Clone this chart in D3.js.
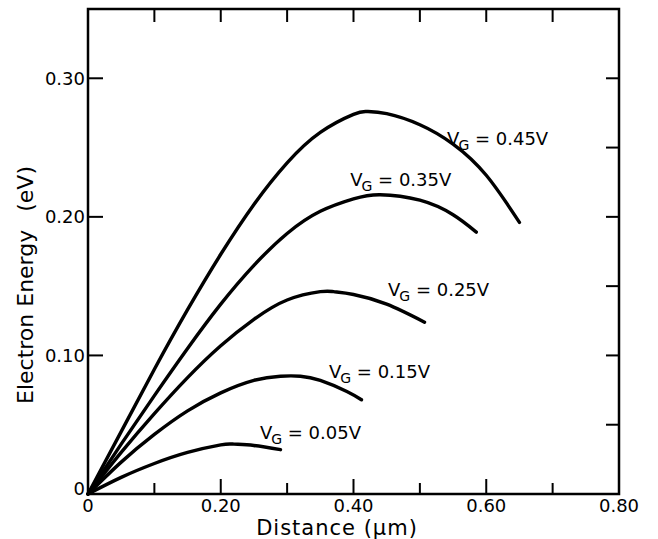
<!DOCTYPE html>
<html>
<head>
<meta charset="utf-8">
<title>Electron Energy vs Distance</title>
<script src="https://d3js.org/d3.v7.min.js"></script>
<style>
  body { margin: 0; background: #fff; }
  svg text { font-family: "DejaVu Sans", sans-serif; fill: #000; }
</style>
</head>
<body>
<script>
// curve data (distance in um, energy in eV)
var dist45 = [0, 0.05, 0.10, 0.15, 0.20, 0.25, 0.30, 0.35, 0.40, 0.42, 0.45, 0.50, 0.55, 0.60, 0.65];
var energy45 = [0, 0.045, 0.090, 0.133, 0.173, 0.209, 0.239, 0.261, 0.274, 0.276, 0.2745, 0.2665, 0.2525, 0.230, 0.196];

var dist35 = [0, 0.05, 0.10, 0.15, 0.20, 0.25, 0.30, 0.35, 0.40, 0.44, 0.50, 0.55, 0.585];
var energy35 = [0, 0.036, 0.071, 0.105, 0.137, 0.165, 0.188, 0.204, 0.213, 0.216, 0.212, 0.2015, 0.189];

var dist25 = [0, 0.05, 0.10, 0.15, 0.20, 0.25, 0.30, 0.35, 0.37, 0.40, 0.45, 0.507];
var energy25 = [0, 0.030, 0.058, 0.084, 0.107, 0.126, 0.140, 0.146, 0.146, 0.144, 0.137, 0.124];

var dist15 = [0, 0.05, 0.10, 0.15, 0.20, 0.25, 0.29, 0.32, 0.35, 0.39, 0.412];
var energy15 = [0, 0.023, 0.043, 0.060, 0.073, 0.082, 0.085, 0.085, 0.082, 0.074, 0.068];

var dist05 = [0, 0.05, 0.10, 0.15, 0.20, 0.22, 0.25, 0.29];
var energy05 = [0, 0.012, 0.022, 0.030, 0.0355, 0.036, 0.035, 0.032];

var gateLabels = ["0.45V", "0.35V", "0.25V", "0.15V", "0.05V"];
// where each label sits, in data units (left edge, baseline)
var labelX = [0.541, 0.395, 0.452, 0.363, 0.259];
var labelY = [0.252, 0.222, 0.143, 0.0837, 0.0397];

var xTickLabels = ["0", "0.20", "0.40", "0.60", "0.80"];
var yTickLabels = ["0", "0.10", "0.20", "0.30"];

var series = [
  {x: dist45, y: energy45},
  {x: dist35, y: energy35},
  {x: dist25, y: energy25},
  {x: dist15, y: energy15},
  {x: dist05, y: energy05}
];

var W = 658, H = 539;
var margin = {top: 9, right: 39, bottom: 45, left: 88},
    width = W - margin.left - margin.right,
    height = H - margin.top - margin.bottom;

var svg = d3.select("body").append("svg")
    .attr("width", W)
    .attr("height", H);

var g = svg.append("g")
    .attr("transform", "translate(" + margin.left + "," + margin.top + ")");

var x = d3.scaleLinear().domain([0, 0.8]).range([0, width]);
var y = d3.scaleLinear().domain([0, 0.35]).range([height, 0]);

// ticks, all pointing inward
function tickLines(sel, vals, fn) {
  sel.selectAll("line").data(vals).enter().append("line")
    .each(function(d) {
      var c = fn(d);
      d3.select(this).attr("x1", c[0]).attr("y1", c[1]).attr("x2", c[2]).attr("y2", c[3]);
    })
    .attr("stroke", "#000")
    .attr("stroke-width", 2);
}

var xMinor = [0.1, 0.2, 0.3, 0.4, 0.5, 0.6, 0.7];
tickLines(g.append("g"), xMinor, function(d) {
  var len = (Math.round(d * 10) % 2 === 0) ? 15 : 11;
  return [x(d), height, x(d), height - len];
});
tickLines(g.append("g"), xMinor, function(d) {
  return [x(d), 0, x(d), 13];
});
tickLines(g.append("g"), [0.1, 0.2, 0.3], function(d) {
  return [0, y(d), 15, y(d)];
});
tickLines(g.append("g"), [0.05, 0.10, 0.15, 0.20, 0.25, 0.30], function(d) {
  return [width, y(d), width - 13, y(d)];
});

// frame
g.append("rect")
    .attr("x", 0).attr("y", 0)
    .attr("width", width).attr("height", height)
    .attr("fill", "none")
    .attr("stroke", "#000")
    .attr("stroke-width", 2.5);

// tick labels
g.append("g").selectAll("text").data(xTickLabels).enter().append("text")
    .attr("x", function(d) { return x(+d); })
    .attr("y", height + 18)
    .attr("text-anchor", "middle")
    .attr("font-size", 18)
    .text(function(d) { return d; });

g.append("g").selectAll("text").data(yTickLabels).enter().append("text")
    .attr("x", -3)
    .attr("y", function(d) { return y(+d) - (+d === 0 ? 5 : 0); })
    .attr("dy", "0.36em")
    .attr("text-anchor", "end")
    .attr("font-size", 18)
    .text(function(d) { return d; });

// curves
var line = d3.line()
    .x(function(d) { return x(d[0]); })
    .y(function(d) { return y(d[1]); })
    .curve(d3.curveNatural);

g.append("g").selectAll("path").data(series).enter().append("path")
    .attr("d", function(s) { return line(d3.zip(s.x, s.y)); })
    .attr("fill", "none")
    .attr("stroke", "#000")
    .attr("stroke-width", 3.4)
    .attr("stroke-linecap", "round");

// V_G labels
var lab = g.append("g").selectAll("text").data(gateLabels).enter().append("text")
    .attr("x", function(d, i) { return x(labelX[i]); })
    .attr("y", function(d, i) { return y(labelY[i]); })
    .attr("font-size", 18);
lab.append("tspan").text("V");
lab.append("tspan").attr("font-size", 14).attr("dy", 5).attr("dx", -1).text("G");
lab.append("tspan").attr("dy", -5).text(function(d) { return " = " + d; });

// axis titles
svg.append("text")
    .attr("x", 337)
    .attr("y", 535)
    .attr("text-anchor", "middle")
    .attr("font-size", 21)
    .attr("letter-spacing", 1)
    .text("Distance (\u03bcm)");

var yt = svg.append("text")
    .attr("transform", "translate(33,285) rotate(-90)")
    .attr("text-anchor", "middle")
    .attr("font-size", 22);
yt.append("tspan").text("Electron Energy");
yt.append("tspan").attr("dx", 18).text("(eV)");
</script>
</body>
</html>
